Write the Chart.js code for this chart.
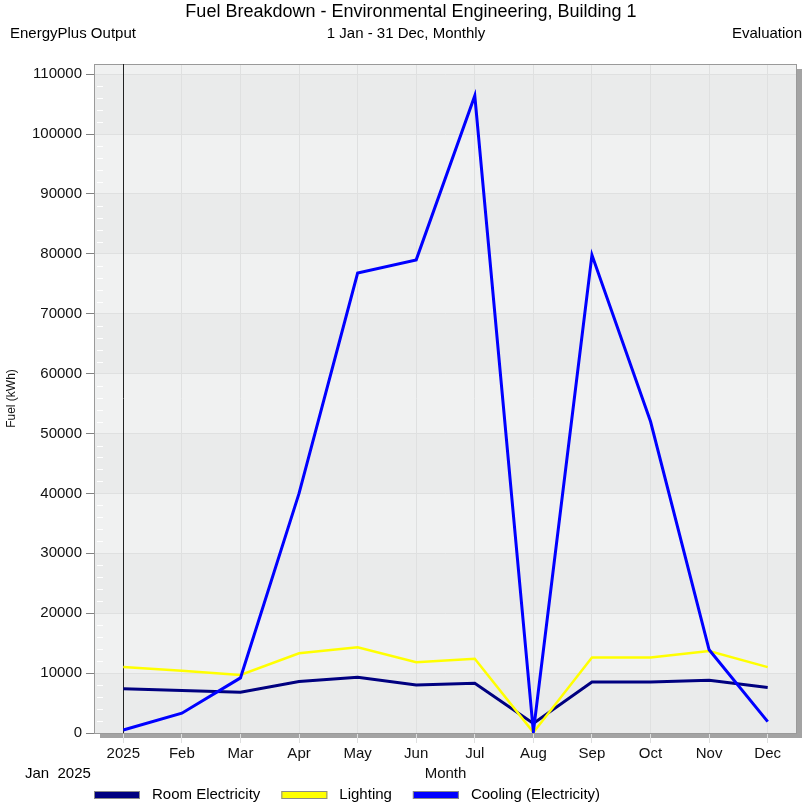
<!DOCTYPE html>
<html>
<head>
<meta charset="utf-8">
<script src="https://cdn.jsdelivr.net/npm/chart.js@4.4.1/dist/chart.umd.min.js"></script>
<style>
  html, body { margin: 0; padding: 0; background: #fff; }
  #wrap { width: 807px; height: 810px; }
</style>
</head>
<body>
<div id="wrap"><canvas id="fuel"></canvas></div>
<script>
// ---- data ----
const months = ['2025', 'Feb', 'Mar', 'Apr', 'May', 'Jun', 'Jul', 'Aug', 'Sep', 'Oct', 'Nov', 'Dec'];
const roomElectricity = [7400, 7100, 6800, 8600, 9300, 8000, 8300, 1600, 8500, 8500, 8800, 7600];
const lighting = [11000, 10400, 9700, 13300, 14300, 11800, 12400, 100, 12600, 12600, 13700, 11000];
const cooling = [500, 3300, 9200, 40000, 76800, 79000, 106400, 200, 79800, 52000, 13900, 1900];
const yTicks = [0, 10000, 20000, 30000, 40000, 50000, 60000, 70000, 80000, 90000, 100000, 110000];
const yMax = 111700;

const FONT = "'Liberation Sans', Arial, sans-serif";

// ---- frame, shadow, bands, Jan marker, header text, legend ----
const decor = {
  id: 'decor',
  beforeDraw(chart) {
    const { ctx, chartArea: a, scales: { y } } = chart;
    ctx.save();
    // drop shadow
    ctx.fillStyle = '#a3a3a3';
    ctx.fillRect(a.right, a.top + 5, 5, a.bottom - a.top);
    ctx.fillRect(a.left + 6, a.bottom, a.right - a.left - 1, 5);
    // alternating bands between major ticks
    ctx.fillStyle = '#f0f1f1';
    ctx.fillRect(a.left, a.top, a.right - a.left, a.bottom - a.top);
    ctx.fillStyle = '#eaebeb';
    for (let i = 0; i < yTicks.length - 1; i += 2) {
      const y0 = y.getPixelForValue(yTicks[i]);
      const y1 = y.getPixelForValue(yTicks[i + 1]);
      ctx.fillRect(a.left, y1, a.right - a.left, y0 - y1);
    }
    ctx.restore();
  },
  beforeDatasetsDraw(chart) {
    const { ctx, chartArea: a, scales: { x, y } } = chart;
    ctx.save();
    // minor ticks inside the left edge
    ctx.strokeStyle = '#ffffff';
    ctx.lineWidth = 1;
    const step = (yTicks[1] - yTicks[0]) / 5;
    for (let i = 0; i < yTicks.length; i++) {
      for (let k = 1; k < 5; k++) {
        const v = yTicks[i] + k * step;
        if (v > yMax) break;
        const py = Math.round(y.getPixelForValue(v)) + 0.5;
        ctx.beginPath();
        ctx.moveTo(a.left + 3, py);
        ctx.lineTo(a.left + 9, py);
        ctx.stroke();
      }
    }
    // frame
    ctx.strokeStyle = '#9a9a9a';
    ctx.strokeRect(a.left + 0.5, a.top + 0.5, a.right - a.left - 1, a.bottom - a.top);
    // start-of-period marker
    const jx = Math.round(x.getPixelForValue(0)) + 0.5;
    ctx.strokeStyle = '#222';
    ctx.beginPath();
    ctx.moveTo(jx, a.top);
    ctx.lineTo(jx, a.bottom);
    ctx.stroke();
    ctx.restore();
  },
  afterDraw(chart) {
    const { ctx, chartArea: a } = chart;
    ctx.save();
    ctx.fillStyle = '#000';
    ctx.textBaseline = 'middle';
    ctx.font = '18px ' + FONT;
    ctx.textAlign = 'center';
    ctx.fillText('Fuel Breakdown - Environmental Engineering, Building 1', 411, 12);
    ctx.font = '15px ' + FONT;
    ctx.fillText('1 Jan - 31 Dec, Monthly', 406, 34);
    ctx.textAlign = 'left';
    ctx.fillText('EnergyPlus Output', 10, 34);
    ctx.fillText('Jan  2025', 25, 774);
    ctx.textAlign = 'right';
    ctx.fillText('Evaluation', 802, 34);

    // legend
    ctx.textAlign = 'left';
    let lx = a.left;
    const ly = 795;
    chart.data.datasets.forEach(ds => {
      ctx.fillStyle = ds.borderColor;
      ctx.fillRect(lx, ly - 4, 46, 8);
      ctx.strokeStyle = '#8a8a8a';
      ctx.lineWidth = 1;
      ctx.strokeRect(lx + 0.5, ly - 3.5, 45, 7);
      ctx.fillStyle = '#000';
      ctx.fillText(ds.label, lx + 58, ly);
      lx += 58 + ctx.measureText(ds.label).width + 21;
    });
    ctx.restore();
  }
};

new Chart(document.getElementById('fuel'), {
  type: 'line',
  data: {
    labels: months,
    datasets: [
      { label: 'Room Electricity', data: roomElectricity, borderColor: '#000080', borderWidth: 3, order: 3 },
      { label: 'Lighting', data: lighting, borderColor: '#ffff00', borderWidth: 2.5, order: 2 },
      { label: 'Cooling (Electricity)', data: cooling, borderColor: '#0000ff', borderWidth: 3, order: 1 }
    ]
  },
  options: {
    responsive: true,
    maintainAspectRatio: false,
    animation: false,
    layout: { padding: { top: 64, right: 10, left: 0, bottom: 0 } },
    elements: { point: { radius: 0 }, line: { tension: 0 } },
    plugins: {
      legend: { display: false },
      tooltip: { enabled: false },
      title: { display: false }
    },
    scales: {
      x: {
        offset: true,
        grid: { offset: false, color: '#dfe0e0', tickColor: '#dfe0e0', tickLength: 10 },
        border: { display: false },
        ticks: { color: '#111', padding: 2, font: { family: FONT, size: 15 }, maxRotation: 0, autoSkip: false },
        title: { display: true, text: 'Month', color: '#111', font: { family: FONT, size: 15 }, padding: { top: 0, bottom: 27 } },
        afterFit(s) { s.height = 77; }
      },
      y: {
        min: 0,
        max: yMax,
        afterBuildTicks(s) { s.ticks = yTicks.map(v => ({ value: v })); },
        grid: { color: '#dfe0e0', tickColor: '#808080', tickLength: 8 },
        border: { display: false },
        ticks: { color: '#111', padding: 4, autoSkip: false, font: { family: FONT, size: 15 }, callback: v => String(v) },
        title: { display: true, text: 'Fuel (kWh)', color: '#111', font: { family: FONT, size: 12 }, padding: { top: 4, bottom: 0 } },
        afterFit(s) { s.width = 94; }
      }
    }
  },
  plugins: [decor]
});
</script>
</body>
</html>
